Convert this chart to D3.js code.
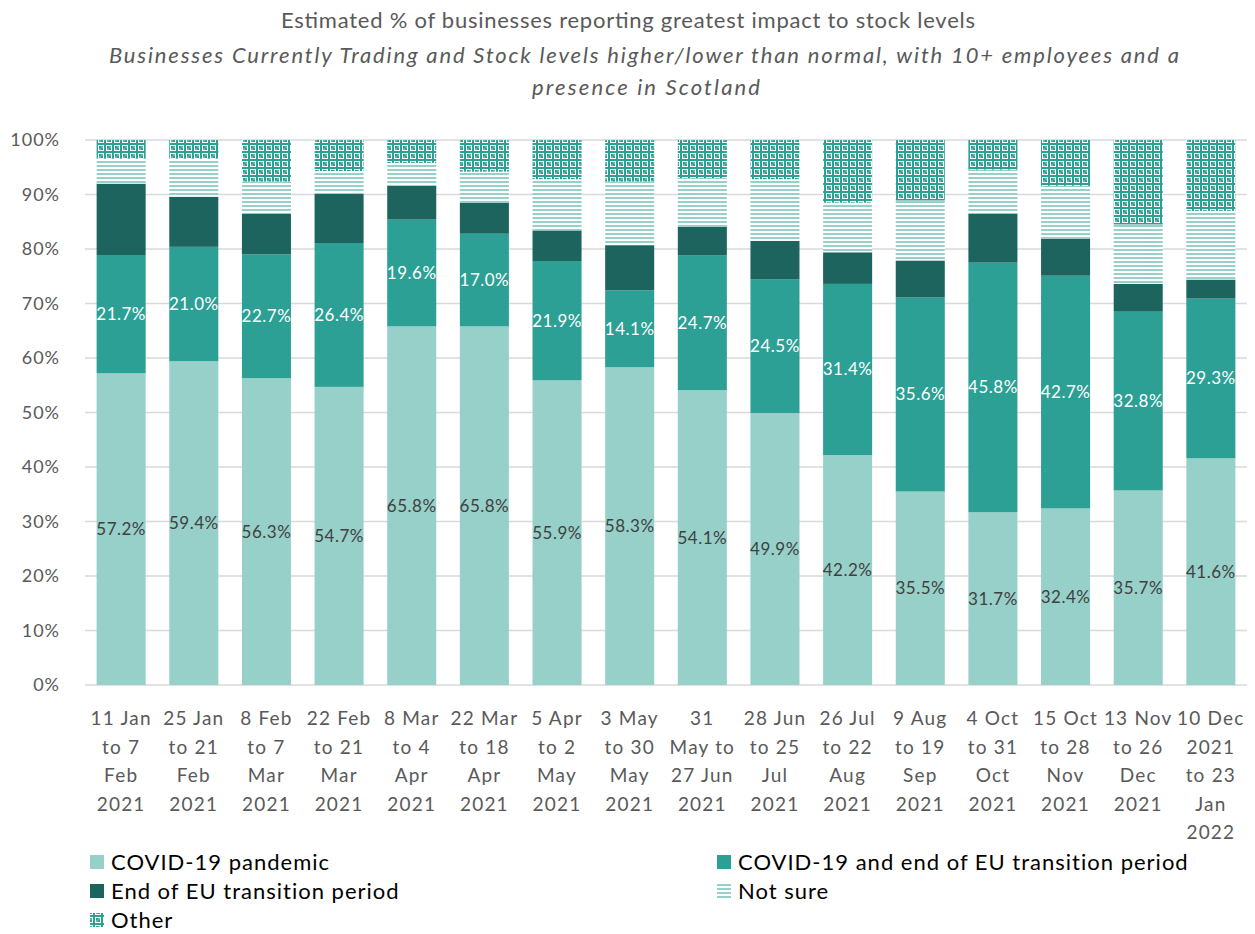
<!DOCTYPE html>
<html>
<head>
<meta charset="utf-8">
<script src="https://cdn.jsdelivr.net/npm/d3@7"></script>
<style>
  body { margin: 0; background: #fff; }
  svg { font-family: Lato, "Open Sans", sans-serif; }
</style>
</head>
<body>
<div id="chart"></div>
<script>
// periods, one per bar (line breaks as in the original axis)
const periods = [
  "11 Jan\nto 7\nFeb\n2021", "25 Jan\nto 21\nFeb\n2021", "8 Feb\nto 7\nMar\n2021",
  "22 Feb\nto 21\nMar\n2021", "8 Mar\nto 4\nApr\n2021", "22 Mar\nto 18\nApr\n2021",
  "5 Apr\nto 2\nMay\n2021", "3 May\nto 30\nMay\n2021", "31\nMay to\n27 Jun\n2021",
  "28 Jun\nto 25\nJul\n2021", "26 Jul\nto 22\nAug\n2021", "9 Aug\nto 19\nSep\n2021",
  "4 Oct\nto 31\nOct\n2021", "15 Oct\nto 28\nNov\n2021", "13 Nov\nto 26\nDec\n2021",
  "10 Dec\n2021\nto 23\nJan\n2022"
];

const covid    = [57.2, 59.4, 56.3, 54.7, 65.8, 65.8, 55.9, 58.3, 54.1, 49.9, 42.2, 35.5, 31.7, 32.4, 35.7, 41.6];
const covidEu  = [21.7, 21.0, 22.7, 26.4, 19.6, 17.0, 21.9, 14.1, 24.7, 24.5, 31.4, 35.6, 45.8, 42.7, 32.8, 29.3];
const euOnly   = [13.1, 9.2, 7.5, 9.0, 6.2, 5.7, 5.6, 8.3, 5.3, 7.1, 5.8, 6.8, 9.0, 6.8, 5.1, 3.5];
const notSure  = [4.6, 7.0, 5.9, 4.2, 4.2, 5.7, 9.4, 11.7, 8.9, 11.3, 9.1, 11.0, 8.1, 9.7, 10.9, 12.6];
const other    = [3.4, 3.4, 7.6, 5.7, 4.2, 5.8, 7.2, 7.6, 7.0, 7.2, 11.5, 11.1, 5.4, 8.4, 15.5, 13.0];

const yTicks = [0, 10, 20, 30, 40, 50, 60, 70, 80, 90, 100];

const keys = ["covid", "covidEu", "euOnly", "notSure", "other"];
const names = {
  covid: "COVID-19 pandemic",
  covidEu: "COVID-19 and end of EU transition period",
  euOnly: "End of EU transition period",
  notSure: "Not sure",
  other: "Other"
};

const rows = periods.map((p, i) => ({
  period: p,
  covid: covid[i], covidEu: covidEu[i], euOnly: euOnly[i], notSure: notSure[i], other: other[i]
}));

const W = 1255, H = 934;
const margin = { top: 140, right: 8, bottom: 249, left: 85 };
const width = W - margin.left - margin.right,
  height = H - margin.top - margin.bottom;

const svg = d3.select("#chart").append("svg")
  .attr("width", W).attr("height", H);

// fill patterns
const defs = svg.append("defs");
const stripes = defs.append("pattern").attr("id", "pat-notsure")
  .attr("patternUnits", "userSpaceOnUse").attr("width", 8).attr("height", 4);
stripes.append("rect").attr("width", 8).attr("height", 4).attr("fill", "#fff");
stripes.append("rect").attr("y", 1).attr("width", 8).attr("height", 2).attr("fill", "#96d0c9");

const dots = defs.append("pattern").attr("id", "pat-other")
  .attr("patternUnits", "userSpaceOnUse").attr("width", 8).attr("height", 8);
dots.append("rect").attr("width", 8).attr("height", 8).attr("fill", "#fff");
dots.append("rect").attr("x", 3).attr("y", 0).attr("width", 2).attr("height", 8).attr("fill", "#2ca095");
dots.append("rect").attr("x", 0).attr("y", 3).attr("width", 8).attr("height", 2).attr("fill", "#2ca095");
dots.append("rect").attr("x", 0).attr("y", 0).attr("width", 2).attr("height", 2).attr("fill", "#2ca095");
dots.append("rect").attr("x", 6).attr("y", 6).attr("width", 2).attr("height", 2).attr("fill", "#2ca095");
dots.append("rect").attr("x", 6).attr("y", 0).attr("width", 2).attr("height", 2).attr("fill", "#5fb8ae");
dots.append("rect").attr("x", 0).attr("y", 6).attr("width", 2).attr("height", 2).attr("fill", "#5fb8ae");

const fills = {
  covid: "#96d0c9",
  covidEu: "#2ca095",
  euOnly: "#1d645e",
  notSure: "url(#pat-notsure)",
  other: "url(#pat-other)"
};

// titles, stretched to the width they take in the original
const title = svg.append("g").attr("fill", "#595959").attr("text-anchor", "middle");
title.append("text").attr("x", 628).attr("y", 28).attr("font-size", 22)
  .attr("textLength", 694).attr("lengthAdjust", "spacing")
  .text("Estimated % of businesses reporting greatest impact to stock levels");
title.append("text").attr("x", 644).attr("y", 63).attr("font-size", 22).attr("font-style", "italic")
  .attr("textLength", 1070).attr("lengthAdjust", "spacing")
  .text("Businesses Currently Trading and Stock levels higher/lower than normal, with 10+ employees and a");
title.append("text").attr("x", 646).attr("y", 95).attr("font-size", 22).attr("font-style", "italic")
  .attr("textLength", 228).attr("lengthAdjust", "spacing")
  .text("presence in Scotland");

const g = svg.append("g").attr("transform", `translate(${margin.left},${margin.top})`);

const x = d3.scaleBand().domain(periods).range([0, width]).paddingInner(0.325).paddingOuter(0.16);
const y = d3.scaleLinear().domain([0, 100]).range([height, 0]);

// gridlines
g.append("g").selectAll("line").data(yTicks).join("line")
  .attr("x1", 0).attr("x2", width)
  .attr("y1", d => y(d)).attr("y2", d => y(d))
  .attr("stroke", "#d9d9d9").attr("stroke-width", 1.5);

// y axis labels
const yAxis = g.append("g").attr("transform", "translate(-22,0)")
  .call(d3.axisLeft(y).tickValues(yTicks).tickFormat(d => d + "%").tickSize(0));
yAxis.select(".domain").remove();
yAxis.selectAll("text").attr("fill", "#595959").attr("font-size", 18)
  .attr("font-family", "Lato, sans-serif").attr("letter-spacing", 1).attr("dx", 0);

// stacked bars
const series = d3.stack().keys(keys)(rows);
g.append("g").selectAll("g").data(series).join("g")
  .attr("fill", d => fills[d.key])
  .selectAll("rect").data(d => d).join("rect")
  .attr("x", d => x(d.data.period))
  .attr("width", x.bandwidth())
  .attr("y", d => y(d[1]))
  .attr("height", d => y(d[0]) - y(d[1]));

// data labels for first two series
const labelled = [{ key: "covid", color: "#404040" }, { key: "covidEu", color: "#ffffff" }];
labelled.forEach(l => {
  const s = series.find(d => d.key === l.key);
  g.append("g").selectAll("text").data(s).join("text")
    .attr("x", d => x(d.data.period) + x.bandwidth() / 2)
    .attr("y", d => y((d[0] + d[1]) / 2))
    .attr("dy", "0.35em")
    .attr("text-anchor", "middle")
    .attr("font-size", 17)
    .attr("letter-spacing", 0.5)
    .attr("fill", l.color)
    .text(d => d.data[l.key].toFixed(1) + "%");
});

// x axis labels
const xAxis = g.append("g").attr("transform", `translate(0,${height})`)
  .call(d3.axisBottom(x).tickSize(0).tickFormat(""));
xAxis.select(".domain").remove();
xAxis.selectAll(".tick").each(function (d) {
  const t = d3.select(this).append("text")
    .attr("fill", "#595959").attr("font-size", 19)
    .attr("font-family", "Lato, sans-serif")
    .attr("letter-spacing", 1.2)
    .attr("text-anchor", "middle").attr("y", 40);
  d.split("\n").forEach((line, i) => {
    t.append("tspan").attr("x", 0).attr("dy", i === 0 ? 0 : 28.5).text(line);
  });
});

// legend
const legendItems = [
  { key: "covid", x: 90, y: 862 },
  { key: "covidEu", x: 717, y: 862 },
  { key: "euOnly", x: 90, y: 891 },
  { key: "notSure", x: 717, y: 891 },
  { key: "other", x: 90, y: 920 }
];
const legend = svg.append("g").selectAll("g").data(legendItems).join("g")
  .attr("transform", d => `translate(${d.x},${d.y})`);
legend.append("rect").attr("x", 0).attr("y", -7).attr("width", 14).attr("height", 14)
  .attr("fill", d => fills[d.key]);
legend.append("text").attr("x", 21).attr("dy", "0.35em")
  .attr("font-size", 22).attr("letter-spacing", 1).attr("fill", "#000")
  .text(d => names[d.key]);
</script>
</body>
</html>
